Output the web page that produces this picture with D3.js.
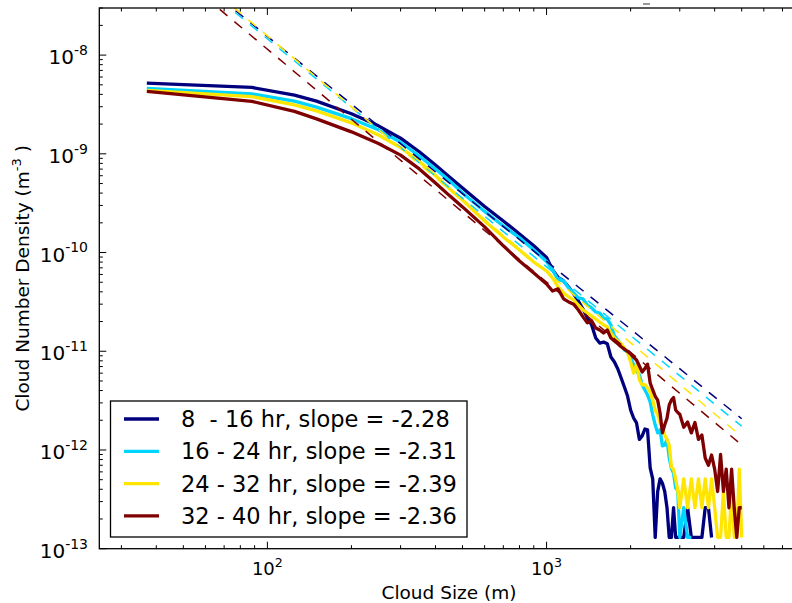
<!DOCTYPE html>
<html>
<head>
<meta charset="utf-8">
<script src="https://cdn.jsdelivr.net/npm/d3@7"></script>
<style>
body { margin: 0; background: #fff; }
text { font-family: "DejaVu Sans", sans-serif; fill: #000; }
</style>
</head>
<body>
<svg id="chart" width="792" height="603"></svg>
<script>
// cloud size bins (m)
var sizes = [37, 88, 125, 150, 200, 250, 300, 350, 400, 450, 500, 600, 700, 800, 900,
  1000, 1050, 1100, 1150, 1200, 1250, 1300, 1350, 1400, 1450,
  1500, 1550, 1600, 1650, 1700, 1750, 1800, 1850, 1900, 1950,
  2000, 2050, 2100, 2150, 2200, 2250, 2300, 2350, 2400, 2450,
  2500, 2550, 2600, 2650, 2700, 2750, 2800, 2850, 2900, 2950,
  3000, 3100, 3200, 3300, 3400, 3500, 3600, 3700, 3800, 3900,
  4000, 4100, 4200, 4300, 4400, 4500, 4600, 4700, 4800, 4900, 5000];

// number density (m^-3), one array per time window
var dens8to16 = [5.2e-9, 4.7e-9, 3.93e-9, 3.42e-9, 2.55e-9, 1.92e-9, 1.44e-9, 1.05e-9, 7.7e-10, 5.8e-10, 4.5e-10, 2.93e-10, 2.09e-10, 1.54e-10, 1.17e-10,
  8.9e-11, 6.7e-11, 5.6e-11, 5.15e-11, 4.48e-11, 3.81e-11, 3.23e-11, 2.68e-11, 2.17e-11, 1.85e-11,
  1.36e-11, 1.21e-11, 1.24e-11, 1.19e-11, 8.75e-12, 7.79e-12, 6.62e-12, 5.36e-12, 4.35e-12, 3.52e-12,
  2.54e-12, 2.11e-12, 1.88e-12, 1.28e-12, 1.39e-12, 1.63e-12, 1.6e-12, 6.6e-13, 5.1e-13, 1.3e-13,
  3.8e-13, 5.1e-13, 4.6e-13, 3.8e-13, 2.6e-13, 1.3e-13, 1.3e-13, 2.6e-13, 1.3e-13, 1.3e-13,
  1.3e-13, 1.3e-13, 2.6e-13, 1.3e-13, 1.3e-13, 1.3e-13, 1.3e-13, 2.6e-13, 2.6e-13, 1.3e-13,
  null, null, null, null, null, null, null, null, null, null, null];
var dens16to24 = [4.6e-9, 4.05e-9, 3.42e-9, 2.97e-9, 2.27e-9, 1.75e-9, 1.31e-9, 9.5e-10, 7.03e-10, 5.31e-10, 4.02e-10, 2.61e-10, 1.86e-10, 1.41e-10, 1.06e-10,
  8.1e-11, 6.7e-11, 5.28e-11, 5.15e-11, 4.38e-11, 3.9e-11, 3.47e-11, 3.39e-11, 2.94e-11, 2.75e-11,
  2.5e-11, 2.44e-11, 2.17e-11, 2.12e-11, 1.85e-11, 1.43e-11, 1.3e-11, 1.16e-11, 1.03e-11, 9.8e-12,
  8.55e-12, 7.3e-12, 6.31e-12, 5.75e-12, 4.56e-12, 4.06e-12, 3.6e-12, 3.06e-12, 2.27e-12, 1.79e-12,
  1.49e-12, 1.6e-12, 1.1e-12, 1.12e-12, 1.28e-12, 8.3e-13, 6.5e-13, 5.85e-13, 4.12e-13, 3.9e-13,
  1.3e-13, 2.6e-13, 1.3e-13, 1.3e-13, null, null, null, null, null, null,
  null, null, null, null, null, null, null, null, null, null, null];
var dens24to32 = [4.4e-9, 3.8e-9, 3.13e-9, 2.72e-9, 2.06e-9, 1.55e-9, 1.16e-9, 8.38e-10, 6.04e-10, 4.41e-10, 3.41e-10, 2.09e-10, 1.44e-10, 1.06e-10, 8.0e-11,
  6.5e-11, 5.53e-11, 4.48e-11, 3.9e-11, 3.55e-11, 3.31e-11, 2.94e-11, 2.62e-11, 2.44e-11, 2.28e-11,
  2.12e-11, 1.98e-11, 1.85e-11, 1.76e-11, 1.53e-11, 1.36e-11, 1.27e-11, 1.19e-11, 1.08e-11, 9.8e-12,
  7.8e-12, 6.03e-12, 7.44e-12, 5.12e-12, 4.56e-12, 4.6e-12, 4.25e-12, 3.87e-12, 3.2e-12, 2.54e-12,
  2.27e-12, 1.88e-12, 1.67e-12, 1.42e-12, 1.28e-12, 1.12e-12, 6.72e-13, 6.3e-13, 5.1e-13, 3.9e-13,
  2.6e-13, 5.1e-13, 2.6e-13, 5.1e-13, 2.6e-13, 5.1e-13, 2.6e-13, 5.1e-13, 2.6e-13, 5.1e-13,
  2.6e-13, 1.3e-13, 1.3e-13, 3.8e-13, 1.3e-13, 1.3e-13, 3.8e-13, 1.3e-13, 1.3e-13, 6.4e-13, 1.3e-13];
var dens32to40 = [4.3e-9, 3.4e-9, 2.69e-9, 2.26e-9, 1.67e-9, 1.27e-9, 9.7e-10, 7.03e-10, 5.07e-10, 3.75e-10, 2.9e-10, 1.82e-10, 1.17e-10, 8.2e-11, 6.2e-11,
  4.8e-11, 4.08e-11, 4.28e-11, 3.4e-11, 3.16e-11, 3.0e-11, 2.62e-11, 2.23e-11, 1.94e-11, 2.03e-11,
  1.72e-11, 1.64e-11, 1.53e-11, 1.64e-11, 1.36e-11, 1.27e-11, 1.19e-11, 1.11e-11, 1.05e-11, 1.0e-11,
  9.39e-12, 8.7e-12, 8.16e-12, 7.1e-12, 6.17e-12, 6.7e-12, 7.4e-12, 4.77e-12, 4.06e-12, 3.5e-12,
  3.2e-12, 2.37e-12, 1.49e-12, 1.8e-12, 2.1e-12, 2.86e-12, 3.2e-12, 3.4e-12, 2.54e-12, 2.4e-12,
  2.3e-12, 1.7e-12, 1.92e-12, 1.49e-12, 1.9e-12, 1.28e-12, 1.42e-12, 8.3e-13, 7.0e-13, 8.9e-13,
  6.4e-13, 3.8e-13, 9.0e-13, 3.8e-13, 6.4e-13, 2.6e-13, 6.4e-13, 2.6e-13, 1.3e-13, 2.6e-13, 2.6e-13];

var periods = ["8  - 16 hr", "16 - 24 hr", "24 - 32 hr", "32 - 40 hr"];
var slopes = [-2.28, -2.31, -2.39, -2.36];
var intercepts = [-3.25, -3.215, -3.025, -3.22];   // log10 of fit prefactor
var fitRange = [37, 5000];
var colors = ["#00007f", "#00d4ff", "#ffe500", "#7f0000"];

var series = [dens8to16, dens16to24, dens24to32, dens32to40];

var svg = d3.select("#chart");
var plotL = 99.3, plotR = 798.7, plotT = 8, plotB = 548.7;

var x = d3.scaleLog().domain([25, 8000]).range([plotL, plotR]);
var y = d3.scaleLog().domain([1e-13, 3e-8]).range([plotB, plotT]);

svg.append("clipPath").attr("id", "plotclip")
    .append("rect").attr("x", plotL).attr("y", plotT)
    .attr("width", plotR - plotL).attr("height", plotB - plotT);

var plot = svg.append("g").attr("clip-path", "url(#plotclip)");

var line = d3.line()
    .defined(function (d) { return d[1] != null; })
    .x(function (d) { return x(d[0]); })
    .y(function (d) { return y(d[1]); });

series.forEach(function (vals, i) {
    plot.append("path")
        .attr("d", line(sizes.map(function (s, j) { return [s, vals[j]]; })))
        .attr("fill", "none")
        .attr("stroke", colors[i])
        .attr("stroke-width", 3.3)
        .attr("stroke-linejoin", "round");
});

// power law fits
slopes.forEach(function (m, i) {
    var pts = fitRange.map(function (s) { return [s, Math.pow(10, intercepts[i] + m * Math.log10(s))]; });
    plot.append("path")
        .attr("d", line(pts))
        .attr("fill", "none")
        .attr("stroke", colors[i])
        .attr("stroke-width", 1.5)
        .attr("stroke-dasharray", "10,9");
});

// frame
svg.append("rect").attr("x", plotL).attr("y", plotT)
    .attr("width", plotR - plotL).attr("height", plotB - plotT)
    .attr("fill", "none").attr("stroke", "#000").attr("stroke-width", 1.3);

function isMajor(v) {
    var l = Math.log10(v);
    return Math.abs(l - Math.round(l)) < 1e-6;
}

var ticks = svg.append("g").attr("stroke", "#000").attr("stroke-width", 1);
x.ticks().forEach(function (v) {
    var len = isMajor(v) ? 7 : 3.5, px = x(v);
    ticks.append("line").attr("x1", px).attr("x2", px).attr("y1", plotB).attr("y2", plotB - len);
    ticks.append("line").attr("x1", px).attr("x2", px).attr("y1", plotT).attr("y2", plotT + len);
});
y.ticks().forEach(function (v) {
    var len = isMajor(v) ? 7 : 3.5, py = y(v);
    ticks.append("line").attr("x1", plotL).attr("x2", plotL + len).attr("y1", py).attr("y2", py);
});

function powLabel(sel, exp, size) {
    sel.append("tspan").text("10");
    sel.append("tspan").attr("font-size", size * 0.7).attr("dy", -size * 0.46).text(exp);
}

x.ticks().filter(isMajor).forEach(function (v) {
    var t = svg.append("text").attr("x", x(v)).attr("y", 575)
        .attr("text-anchor", "middle").attr("font-size", 18);
    powLabel(t, Math.round(Math.log10(v)), 18);
});
y.ticks().filter(isMajor).forEach(function (v) {
    var t = svg.append("text").attr("x", 88).attr("y", y(v) + 9)
        .attr("text-anchor", "end").attr("font-size", 20);
    powLabel(t, Math.round(Math.log10(v)), 20);
});

svg.append("text").attr("x", (plotL + plotR) / 2).attr("y", 599)
    .attr("text-anchor", "middle").attr("font-size", 18.5).text("Cloud Size (m)");

var yl = svg.append("text").attr("transform", "translate(29," + ((plotT + plotB) / 2) + ") rotate(-90)")
    .attr("text-anchor", "middle").attr("font-size", 18.5);
yl.append("tspan").text("Cloud Number Density (m");
yl.append("tspan").attr("font-size", 13).attr("dy", -8).text("-3");
yl.append("tspan").attr("dy", 8).text(" )");

// stray mark at the top edge
svg.append("line").attr("x1", 643).attr("x2", 650).attr("y1", 4).attr("y2", 4)
    .attr("stroke", "#333").attr("stroke-width", 1);

// legend
var leg = svg.append("g");
leg.append("rect").attr("x", 110.5).attr("y", 401).attr("width", 356.5).attr("height", 136)
    .attr("fill", "#fff").attr("stroke", "#000").attr("stroke-width", 1.3);
periods.forEach(function (p, i) {
    var ry = 419 + i * 32.3;
    leg.append("line").attr("x1", 124).attr("x2", 159).attr("y1", ry).attr("y2", ry)
        .attr("stroke", colors[i]).attr("stroke-width", 3.3);
    leg.append("text").attr("x", 181).attr("y", ry + 8).attr("font-size", 22.5)
        .style("white-space", "pre")
        .text(p + ", slope = " + slopes[i].toFixed(2));
});
</script>
</body>
</html>
